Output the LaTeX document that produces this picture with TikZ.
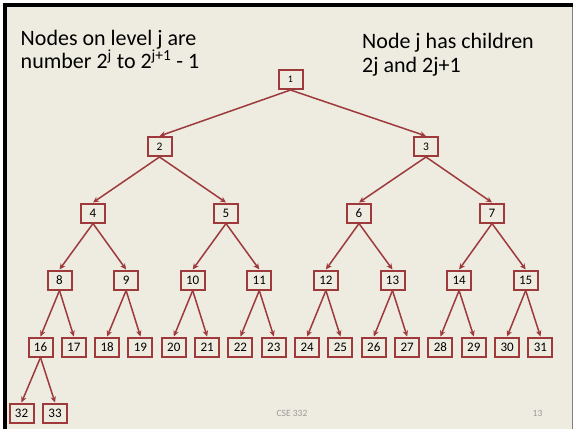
\documentclass[tikz,border=0pt]{standalone}
\usepackage{fontspec}
\setmainfont{Carlito}
\usetikzlibrary{arrows.meta}
\definecolor{slidebg}{HTML}{EEEBE0}
\definecolor{boxred}{HTML}{9E3A3C}
\definecolor{footgray}{HTML}{9A9A9A}
\tikzset{
  heapnode/.style={draw=boxred, line width=2pt, fill=slidebg, rectangle,
    minimum width=24pt, minimum height=19pt, inner sep=0pt, text=black,
    font=\fontsize{13}{14}\selectfont},
  toplevel/.style={font=\fontsize{10}{11}\selectfont},
  secondlevel/.style={font=\fontsize{11.5}{13}\selectfont},
  edge/.style={draw=boxred, line width=1.5pt, -{Stealth[length=6pt,width=5.5pt]}},
  heading/.style={anchor=base west, inner sep=0pt, align=left,
    font=\fontsize{22}{23.5}\selectfont},
  footer/.style={anchor=base, inner sep=0pt, text=footgray, font=\fontsize{9.5}{11}\selectfont}
}
\begin{document}
\begin{tikzpicture}[x=1pt, y=-1pt]
  \useasboundingbox (0,0) rectangle (574,429);
  % slide frame
  \fill[white] (0,0) rectangle (574,429);
  \fill[black] (3,3) rectangle (573,429);
  \fill[slidebg] (7,7) rectangle (571.5,429);
  \draw[gray, line width=1pt] (572,7) -- (572,429);

  % headings (anchored on the baseline of their last line)
  \node[heading] (lefttext) at (20.5,68.5)
    {Nodes on level j are\\number 2\textsuperscript{j} to 2\textsuperscript{j+1} - 1};
  \node[heading] (righttext) at (362,72)
    {Node j has children\\2j and 2j+1};

  % tree nodes, level by level
  \node[heapnode, toplevel] (n1) at (290.5,79.5) {1};
  \node[heapnode, secondlevel] (n2) at (159.5,146.5) {2};
  \node[heapnode, secondlevel] (n3) at (426,146.5) {3};
  \foreach \i [count=\k from 0] in {4,...,7}
    \node[heapnode] (n\i) at (93+133*\k,213) {\i};
  \foreach \i [count=\k from 0] in {8,...,15}
    \node[heapnode] (n\i) at (59.5+66.6*\k,280) {\i};
  \foreach \i [count=\k from 0] in {16,...,31}
    \node[heapnode] (n\i) at (40.5+33.33*\k,347) {\i};
  \node[heapnode] (n32) at (21.5,413) {32};
  \node[heapnode] (n33) at (55,413) {33};

  % parent-to-child connectors: node i has children 2i and 2i+1
  \foreach \c in {2,...,33} {
    \pgfmathtruncatemacro{\p}{floor(\c/2)}
    \draw[edge] (n\p.south) -- (n\c.north);
  }

  % footer
  \node[footer] (course) at (292,416) {CSE 332};
  \node[footer] (page) at (537.5,416) {13};
\end{tikzpicture}
\end{document}
